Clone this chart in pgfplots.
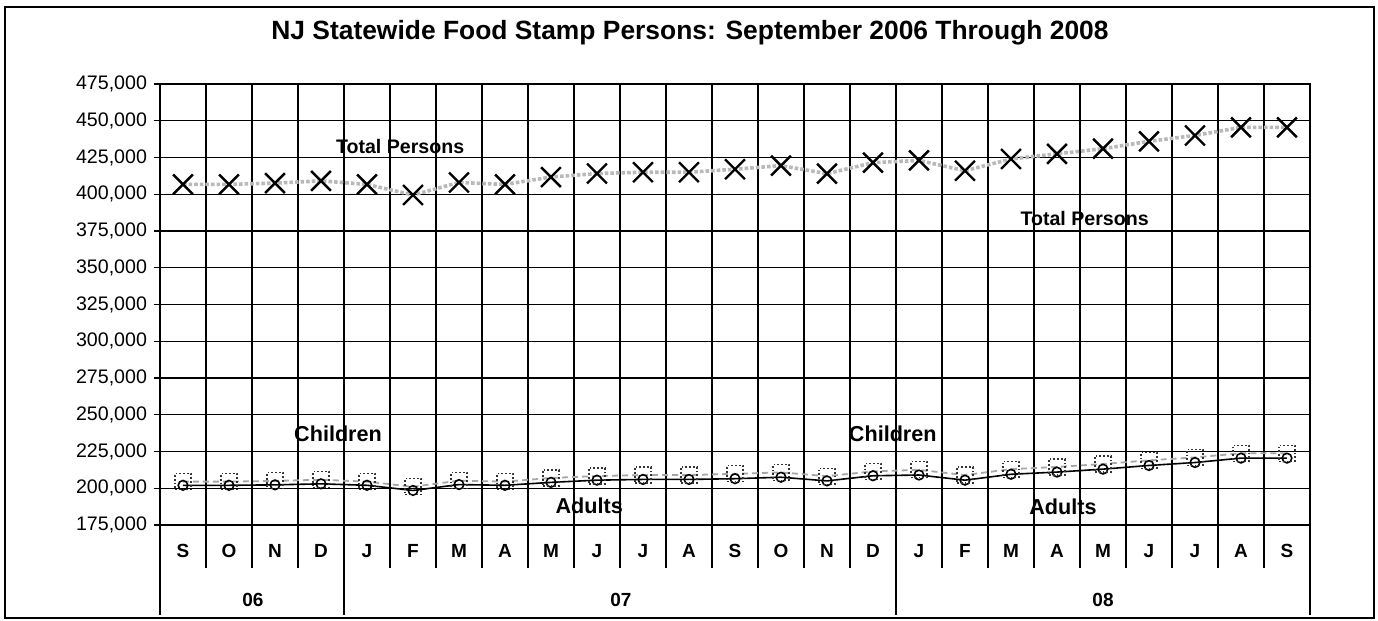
\documentclass[border=0pt]{standalone}
\usepackage{pgfplots}
\pgfplotsset{compat=1.18}
\usepackage{fontspec}
\setmainfont{Liberation Sans}

\begin{document}
\begin{tikzpicture}
% canvas: 1 px of the reference = 0.5pt, axis origin at px (160,525)
\path (-80pt,-48pt) rectangle (609pt,262.5pt);
\draw[line width=0.8pt] (-77.5pt,-46.5pt) rectangle (607pt,259pt);

\begin{axis}[
    at={(0,0)}, anchor=south west,
    scale only axis,
    width=575pt, height=220.5pt,
    xmin=-0.5, xmax=24.5,
    ymin=175000, ymax=475000,
    ytick={175000,200000,...,475000},
    scaled y ticks=false,
    yticklabel style={font=\fontsize{9.8}{11}\selectfont,
        /pgf/number format/.cd, fixed, 1000 sep={,}, assume math mode=true},
    xtick={0,...,24},
    xticklabels={S,O,N,D,J,F,M,A,M,J,J,A,S,O,N,D,J,F,M,A,M,J,J,A,S},
    minor xtick={0.5,1.5,...,23.5},
    xminorgrids, ymajorgrids,
    grid style={black, line width=0.65pt},
    minor grid style={black, line width=0.65pt},
    axis line style={black, line width=0.8pt},
    tick align=outside,
    xtick pos=bottom, ytick pos=left,
    major x tick style={draw=none},
    minor x tick style={black, line width=0.65pt},
    y tick style={black, line width=0.65pt},
    major tick length=3pt,
    minor tick length=21.5pt,
    xticklabel style={font=\bfseries\fontsize{9.5}{11}\selectfont, yshift=-3pt},
    clip=false,
]
% Total Persons
\addplot[gray!55, densely dotted, line width=1.8pt,
    mark=x, mark size=7pt, mark options={solid, black, line width=1.2pt}]
coordinates {
(0,406700) (1,406700) (2,407600) (3,409100) (4,406700) (5,399500)
(6,408000) (7,406700) (8,411700) (9,414100) (10,415000) (11,415000)
(12,417000) (13,419500) (14,414000) (15,421500) (16,423000) (17,416000)
(18,424000) (19,427500) (20,431000) (21,436000) (22,440000) (23,445500)
(24,445500)
};
% Adults
\addplot[black, line width=0.8pt,
    mark=o, mark size=2.4pt, mark options={solid, black, line width=0.8pt}]
coordinates {
(0,202000) (1,202000) (2,202300) (3,203000) (4,202000) (5,198500)
(6,202500) (7,202000) (8,204000) (9,205500) (10,206000) (11,206000)
(12,206500) (13,207500) (14,205000) (15,208500) (16,209000) (17,205500)
(18,209500) (19,211000) (20,213000) (21,215500) (22,217500) (23,220500)
(24,220500)
};
% Children
\addplot[gray!70, densely dashed, line width=0.9pt,
    mark=square, mark size=4pt, mark options={densely dotted, black!80, line width=0.6pt}]
coordinates {
(0,204500) (1,204500) (2,205000) (3,205800) (4,204500) (5,201000)
(6,205200) (7,204500) (8,207000) (9,208300) (10,209000) (11,209000)
(12,209800) (13,210800) (14,208200) (15,211500) (16,212500) (17,209000)
(18,213000) (19,214500) (20,216500) (21,219000) (22,221000) (23,223800)
(24,223800)
};

\node[font=\bfseries\fontsize{9.8}{11}\selectfont] at (axis cs:4.72,432800) {Total Persons};
\node[font=\bfseries\fontsize{9.8}{11}\selectfont] at (axis cs:19.6,383800) {Total Persons};
\node[font=\bfseries\fontsize{10.8}{12}\selectfont] at (axis cs:3.37,236900) {Children};
\node[font=\bfseries\fontsize{10.8}{12}\selectfont] at (axis cs:15.43,236900) {Children};
\node[font=\bfseries\fontsize{10.8}{12}\selectfont] at (axis cs:8.83,187900) {Adults};
\node[font=\bfseries\fontsize{10.8}{12}\selectfont] at (axis cs:19.13,187200) {Adults};
\end{axis}

% year separators and labels
\foreach \xx in {0,92,368,575} {
  \draw[black, line width=0.65pt] (\xx pt,0) -- (\xx pt,-45pt);
}
\node[font=\bfseries\fontsize{9.5}{11}\selectfont] at (46.5pt,-37.5pt) {06};
\node[font=\bfseries\fontsize{9.5}{11}\selectfont] at (230.5pt,-37.5pt) {07};
\node[font=\bfseries\fontsize{9.5}{11}\selectfont] at (471.5pt,-37.5pt) {08};

% title
\node[font=\bfseries\fontsize{13.2}{15}\selectfont] at (265pt,246pt)
  {NJ Statewide Food Stamp Persons: September 2006 Through 2008};
\end{tikzpicture}
\end{document}
